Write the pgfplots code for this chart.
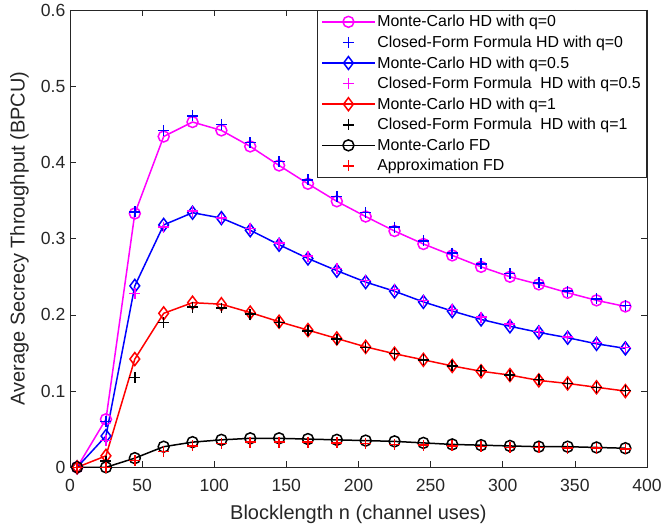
\documentclass[border=0pt]{standalone}
\usepackage{pgfplots}
\pgfplotsset{compat=1.18}
\usepackage{pgfplotstable}
\usepackage{fontspec}
\setmainfont{Liberation Sans}

% Monte-Carlo and closed-form results: n, then one column per curve
\pgfplotstableread{
n    mcq0   cfq0   mcq5   cfq5   mcq1   cfq1   mcfd   apfd
5    0.000  0.000  0.000  0.000  0.000  0.000  0.000  0.000
25   0.063  0.060  0.041  0.035  0.015  0.008  0.000  0.000
45   0.333  0.335  0.238  0.228  0.142  0.118  0.012  0.009
65   0.434  0.442  0.318  0.315  0.202  0.190  0.027  0.021
85   0.453  0.461  0.334  0.336  0.216  0.210  0.033  0.028
105  0.442  0.450  0.327  0.327  0.214  0.209  0.036  0.031
125  0.421  0.426  0.311  0.313  0.203  0.201  0.038  0.033
145  0.396  0.401  0.292  0.294  0.191  0.190  0.038  0.033
165  0.372  0.377  0.274  0.277  0.180  0.179  0.037  0.033
185  0.349  0.355  0.258  0.261  0.169  0.168  0.036  0.032
205  0.329  0.334  0.243  0.245  0.158  0.157  0.035  0.031
225  0.310  0.315  0.231  0.233  0.149  0.149  0.034  0.030
245  0.293  0.297  0.217  0.219  0.141  0.141  0.032  0.029
265  0.278  0.281  0.205  0.207  0.133  0.133  0.030  0.028
285  0.263  0.267  0.194  0.197  0.126  0.127  0.029  0.027
305  0.250  0.254  0.185  0.188  0.121  0.121  0.028  0.026
325  0.240  0.242  0.177  0.178  0.114  0.115  0.027  0.026
345  0.229  0.231  0.170  0.171  0.110  0.110  0.027  0.025
365  0.219  0.221  0.162  0.164  0.105  0.105  0.026  0.025
385  0.211  0.212  0.156  0.157  0.100  0.101  0.025  0.024
}\results

\definecolor{axgray}{rgb}{0.15,0.15,0.15}
\definecolor{cmag}{rgb}{1,0,1}
\definecolor{cblue}{rgb}{0,0,1}
\definecolor{cred}{rgb}{1,0,0}
\definecolor{cblack}{rgb}{0,0,0}

\begin{document}
\begin{tikzpicture}
\begin{axis}[
  name=ax,
  scale only axis,
  width=578pt, height=458pt,
  xmin=0, xmax=400, ymin=0, ymax=0.6,
  xtick={0,50,...,400},
  ytick={0,0.1,...,0.6},
  yticklabel style={/pgf/number format/fixed, xshift=-1pt},
  xticklabel style={yshift=-8pt},
  /pgf/number format/assume math mode=true,
  tick align=inside,
  major tick length=6pt,
  axis line style={axgray, line width=0.7pt},
  tick style={axgray, line width=0.7pt},
  every tick label/.append style={text=axgray, font=\fontsize{17.6}{20}\selectfont},
  xlabel={Blocklength n (channel uses)},
  ylabel={Average Secrecy Throughput (BPCU)},
  label style={text=axgray, font=\fontsize{20}{22}\selectfont},
  xlabel style={at={(axis description cs:0.5,-0.1026)}, anchor=center},
  ylabel style={at={(axis description cs:-0.0874,0.5)}, anchor=center},
  legend cell align=left,
  legend style={at={(1,1)}, anchor=north east, draw=axgray, line width=0.7pt,
    font=\fontsize{15.9}{18}\selectfont, row sep=3.6pt, inner xsep=4pt, inner ysep=3pt,
    /tikz/every even column/.append style={column sep=2pt}},
  lgd/.style={legend image code/.code={%
    \draw[mark repeat=2, mark phase=2, ##1] plot coordinates {(0cm,0cm) (0.92cm,0cm) (1.84cm,0cm)};}},
  every axis plot/.append style={line width=1.5pt},
]
\addplot[color=cmag, mark=o, mark size=5.5pt, lgd] table[x=n, y=mcq0] {\results};
\addlegendentry{Monte-Carlo HD with q=0}
\addplot[color=cblue, only marks, mark=+, mark size=5.5pt, lgd] table[x=n, y=cfq0] {\results};
\addlegendentry{Closed-Form Formula HD with q=0}
\addplot[color=cblue, mark=diamond, mark size=6.5pt, lgd] table[x=n, y=mcq5] {\results};
\addlegendentry{Monte-Carlo HD with q=0.5}
\addplot[color=cmag, only marks, mark=+, mark size=5.5pt, lgd] table[x=n, y=cfq5] {\results};
\addlegendentry{Closed-Form Formula\ \ HD with q=0.5}
\addplot[color=cred, mark=diamond, mark size=6.5pt, lgd] table[x=n, y=mcq1] {\results};
\addlegendentry{Monte-Carlo HD with q=1}
\addplot[color=cblack, only marks, mark=+, mark size=5.5pt, lgd] table[x=n, y=cfq1] {\results};
\addlegendentry{Closed-Form Formula\ \ HD with q=1}
\addplot[color=cblack, mark=o, mark size=5.5pt, lgd] table[x=n, y=mcfd] {\results};
\addlegendentry{Monte-Carlo FD}
\addplot[color=cred, only marks, mark=+, mark size=5.5pt, lgd] table[x=n, y=apfd] {\results};
\addlegendentry{Approximation FD}
\end{axis}
% white margin around the plot box
\path ([shift={(-70pt,-61pt)}]ax.south west) rectangle ([shift={(16pt,10pt)}]ax.north east);
\end{tikzpicture}
\end{document}
